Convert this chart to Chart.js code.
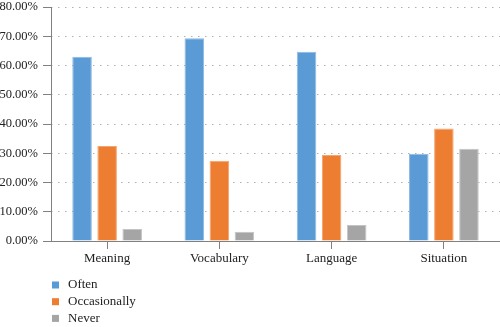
<!DOCTYPE html>
<html>
<head>
<meta charset="utf-8">
<script src="https://cdn.jsdelivr.net/npm/chart.js@4/dist/chart.umd.min.js"></script>
<style>
  html, body { margin: 0; padding: 0; background: #ffffff; }
  #wrap { width: 500px; height: 327px; }
</style>
</head>
<body>
<div id="wrap"><canvas id="c" width="500" height="327"></canvas></div>
<script>
// Categories and series (percent of responses)
const categories = ['Meaning', 'Vocabulary', 'Language', 'Situation'];
const often        = [63.0, 69.3, 64.7, 29.8];
const occasionally = [32.5, 27.4, 29.4, 38.5];
const never        = [4.1, 3.2, 5.5, 31.5];
const seriesNames  = ['Often', 'Occasionally', 'Never'];
const yTicks = [0, 10, 20, 30, 40, 50, 60, 70, 80];

const serif = '"Liberation Serif", "Times New Roman", serif';
const textColor = '#222222';

// Vertical legend drawn under the axis, one item per row
const stackedLegend = {
  id: 'stackedLegend',
  afterDraw(chart) {
    const ctx = chart.ctx;
    ctx.save();
    ctx.font = '13px ' + serif;
    ctx.textBaseline = 'middle';
    ctx.textAlign = 'left';
    chart.data.datasets.forEach((ds, i) => {
      const y = 285 + i * 16.7;
      ctx.fillStyle = ds.backgroundColor;
      ctx.fillRect(52, y - 3.5, 7, 7);
      ctx.fillStyle = textColor;
      ctx.fillText(ds.label, 68, y);
    });
    ctx.restore();
  }
};

new Chart(document.getElementById('c'), {
  type: 'bar',
  data: {
    labels: categories,
    datasets: [
      { label: seriesNames[0], data: often,        backgroundColor: '#5B9BD5', borderColor: '#8db9e4', borderWidth: 1 },
      { label: seriesNames[1], data: occasionally, backgroundColor: '#ED7D31', borderColor: '#f3a46f', borderWidth: 1 },
      { label: seriesNames[2], data: never,        backgroundColor: '#A5A5A5', borderColor: '#c4c4c4', borderWidth: 1 }
    ]
  },
  options: {
    responsive: false,
    animation: false,
    devicePixelRatio: 1,
    layout: { padding: { top: 7, left: 0, right: 0, bottom: 56 } },
    datasets: { bar: { categoryPercentage: 0.67, barPercentage: 0.78 } },
    plugins: { legend: { display: false }, tooltip: { enabled: false } },
    scales: {
      x: {
        grid: { offset: false, drawOnChartArea: false, drawTicks: true, tickLength: 8, tickColor: '#808080', tickWidth: 1 },
        border: { display: true, color: '#808080', width: 1 },
        ticks: { color: textColor, font: { family: serif, size: 13 }, padding: 2, maxRotation: 0 },
        afterFit(scale) { scale.height = 30; scale.paddingLeft = 0; scale.paddingRight = 0; }
      },
      y: {
        min: 0, max: 80,
        afterBuildTicks(scale) { scale.ticks = yTicks.map(v => ({ value: v })); },
        grid: { color: '#b0b0b0', lineWidth: 1, drawTicks: true, tickLength: 8, tickColor: '#808080', tickWidth: 1, tickBorderDash: [] },
        border: { display: true, color: '#808080', width: 1, dash: [1.5, 5.5], dashOffset: -6 },
        ticks: { color: textColor, font: { family: serif, size: 12.5 }, padding: 5,
          callback: v => v.toFixed(2) + '%' },
        afterFit(scale) { scale.width = 51; scale.paddingTop = 0; scale.paddingBottom = 0; }
      }
    }
  },
  plugins: [stackedLegend]
});
</script>
</body>
</html>
